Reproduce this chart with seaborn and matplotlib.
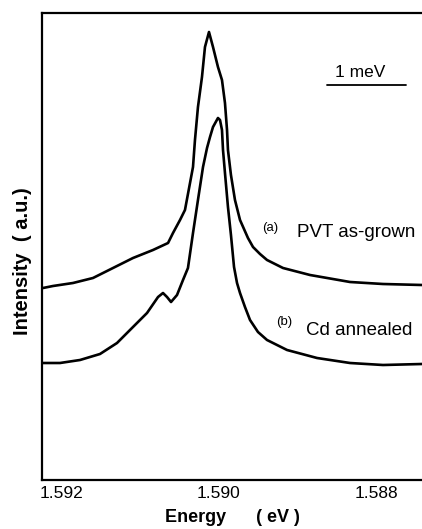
import numpy as np
import pandas as pd
import matplotlib
matplotlib.use("Agg")
import matplotlib.pyplot as plt
import matplotlib.transforms as mtransforms
import seaborn as sns

sns.set_theme(style="white")
plt.rcParams['font.family'] = ['Liberation Sans', 'DejaVu Sans']
plt.rcParams['text.color'] = 'black'
plt.rcParams['axes.labelcolor'] = 'black'
plt.rcParams['xtick.color'] = 'black'

# Curve (a) PVT as-grown
energy_a = [1.592051, 1.591924, 1.591670, 1.591416, 1.591162, 1.590908, 1.590654,
            1.590463, 1.590400, 1.590311, 1.590248, 1.590184, 1.590146, 1.590121,
            1.590083, 1.590032, 1.589994, 1.589943, 1.589892, 1.589829, 1.589778,
            1.589740, 1.589714, 1.589702, 1.589664, 1.589613, 1.589549, 1.589448,
            1.589384, 1.589295, 1.589206, 1.589003, 1.588660, 1.588152, 1.587733,
            1.587238]
intens_a = [192, 194, 197, 202, 212, 222, 230,
            237, 247, 260, 270, 297, 313, 340,
            373, 403, 433, 448, 433, 413, 400,
            377, 350, 330, 305, 280, 260, 242,
            233, 226, 220, 212, 205, 198, 196,
            195]

# Curve (b) Cd annealed
energy_b = [1.592051, 1.591835, 1.591581, 1.591327, 1.591111, 1.590908, 1.590730,
            1.590590, 1.590527, 1.590476, 1.590425, 1.590349, 1.590273, 1.590210,
            1.590146, 1.590083, 1.590019, 1.589968, 1.589930, 1.589892, 1.589829,
            1.589803, 1.589778, 1.589765, 1.589740, 1.589702, 1.589664, 1.589625,
            1.589587, 1.589549, 1.589486, 1.589422, 1.589321, 1.589206, 1.588952,
            1.588571, 1.588152, 1.587733, 1.587238]
intens_b = [117, 117, 120, 126, 137, 153, 167,
            183, 187, 183, 178, 185, 200, 212,
            247, 280, 313, 332, 343, 353, 362,
            360, 350, 330, 307, 273, 245, 213,
            197, 187, 173, 160, 148, 140, 130,
            122, 117, 115, 116]

xticks = [1.592, 1.590, 1.588]
xtick_labels = ["1.592", "1.590", "1.588"]

df = pd.concat([
    pd.DataFrame({"E": energy_a, "I": intens_a, "s": "a"}),
    pd.DataFrame({"E": energy_b, "I": intens_b, "s": "b"}),
])

fig = plt.figure(figsize=(4.22, 5.29), dpi=100)
ax = fig.add_axes([42/422, 49/529, 380/422, 467/529])

sns.lineplot(data=df, x="E", y="I", units="s", estimator=None, sort=False,
             color="black", linewidth=1.9, ax=ax, legend=False)
for ln in ax.get_lines():
    ln.set_solid_joinstyle("round")
    ln.set_solid_capstyle("round")

ax.set_xlim(1.5920635, 1.587238)
ax.set_ylim(0, 467)
ax.set_xticks(xticks)
ax.set_xticklabels(xtick_labels, fontsize=12.5)
ax.set_yticks([])
ax.tick_params(axis="x", direction="in", length=7, width=1.3, color="black", pad=4)
offset = mtransforms.ScaledTranslation(14/100, 0, fig.dpi_scale_trans)
for lab in ax.get_xticklabels():
    lab.set_transform(lab.get_transform() + offset)
for side in ["left", "top", "bottom"]:
    ax.spines[side].set_color("black")
    ax.spines[side].set_linewidth(1.6)
ax.spines["right"].set_visible(False)

ax.set_xlabel("Energy      ( eV )", fontsize=13, fontweight="bold", labelpad=6)
ax.set_ylabel("Intensity  ( a.u.)", fontsize=14.5, fontweight="bold")
ax.yaxis.set_label_coords(-0.026, 0.469)

# scale bar 1 meV
ax.plot([1.588444, 1.587444], [395, 395], color="black", linewidth=1.3)
ax.text(0.837, 0.872, "1 meV", transform=ax.transAxes, fontsize=12.5,
        ha="center", va="center")

ax.text(0.600, 0.540, "(a)", transform=ax.transAxes, fontsize=9.5, ha="center", va="center")
ax.text(0.671, 0.529, "PVT as-grown", transform=ax.transAxes, fontsize=13.5, ha="left", va="center")
ax.text(0.637, 0.338, "(b)", transform=ax.transAxes, fontsize=9.5, ha="center", va="center")
ax.text(0.695, 0.321, "Cd annealed", transform=ax.transAxes, fontsize=13.5, ha="left", va="center")

fig.savefig("out.png", dpi=100)
